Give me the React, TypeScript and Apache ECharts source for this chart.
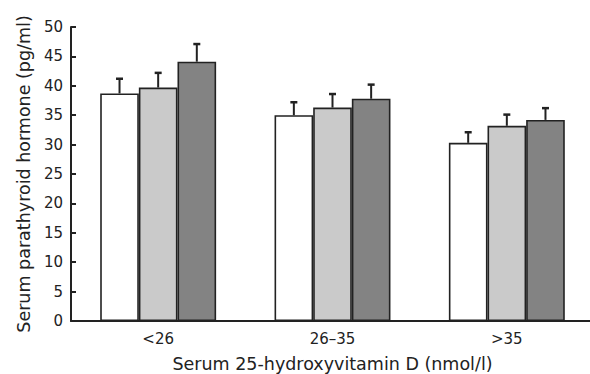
import React, { useEffect, useRef } from "react";
import * as echarts from "echarts";

const categories = ["<26", "26\u201335", ">35"];
const seriesNames = ["Group 1", "Group 2", "Group 3"];
const whiteMeans = [38.7, 35.0, 30.3];
const lightMeans = [39.7, 36.3, 33.2];
const darkMeans = [44.1, 37.8, 34.2];
const whiteErr = [2.5, 2.2, 1.8];
const lightErr = [2.5, 2.3, 1.9];
const darkErr = [3.0, 2.4, 2.0];
const yTicks = [0, 5, 10, 15, 20, 25, 30, 35, 40, 45, 50];

const colors = ["#ffffff", "#cacaca", "#838383"];
const CATEGORY_GAP = 0.335;
const FONT = "DejaVu Sans";
const INK = "#222222";

export default function App() {
  const ref = useRef<HTMLDivElement>(null);

  useEffect(() => {
    if (!ref.current) return;
    const chart = echarts.init(ref.current, null, { renderer: "svg", width: 590, height: 374 });
    const means = [whiteMeans, lightMeans, darkMeans];
    const errs = [whiteErr, lightErr, darkErr];

    const barSeries = means.map((vals, k) => ({
      type: "bar",
      name: seriesNames[k],
      data: vals,
      barGap: "0%",
      barCategoryGap: CATEGORY_GAP * 100 + "%",
      itemStyle: { color: colors[k], borderColor: INK, borderWidth: 1.6 },
      z: 2,
    }));

    const errSeries = means.map((vals, k) => ({
      type: "custom",
      name: seriesNames[k] + " error",
      data: vals.map((m, i) => [i, m + errs[k][i], m]),
      encode: { x: 0, y: 1 },
      z: 3,
      renderItem: (params: any, api: any) => {
        const ci = api.value(0);
        const top = api.value(1);
        const mean = api.value(2);
        const bandW = api.size([1, 0])[0];
        const barW = (bandW * (1 - CATEGORY_GAP)) / 3;
        const p0 = api.coord([ci, mean]);
        const p1 = api.coord([ci, top]);
        const x = p0[0] + (k - 1) * barW;
        const capHalf = 3.5;
        return {
          type: "group",
          children: [
            {
              type: "line",
              shape: { x1: x, y1: p0[1], x2: x, y2: p1[1] },
              style: { stroke: INK, lineWidth: 2 },
            },
            {
              type: "line",
              shape: { x1: x - capHalf, y1: p1[1], x2: x + capHalf, y2: p1[1] },
              style: { stroke: INK, lineWidth: 2.5 },
            },
          ],
        };
      },
    }));

    chart.setOption({
      animation: false,
      backgroundColor: "#ffffff",
      textStyle: { fontFamily: FONT, color: INK },
      grid: { left: 71, top: 27, width: 523, height: 294, containLabel: false, outerBoundsMode: "none" },
      xAxis: {
        type: "category",
        data: categories,
        name: "Serum 25-hydroxyvitamin D (nmol/l)",
        nameLocation: "middle",
        nameGap: 34,
        nameTextStyle: { fontFamily: FONT, fontSize: 17.5, color: INK },
        axisLine: { show: true, lineStyle: { color: INK, width: 2 } },
        axisTick: { show: false },
        axisLabel: { margin: 10, fontFamily: FONT, fontSize: 15, color: INK },
        splitLine: { show: false },
      },
      yAxis: {
        type: "value",
        min: yTicks[0],
        max: yTicks[yTicks.length - 1],
        interval: 5,
        name: "Serum parathyroid hormone (pg/ml)",
        nameLocation: "middle",
        nameRotate: 90,
        nameGap: 38,
        nameTextStyle: { fontFamily: FONT, fontSize: 17.5, color: INK },
        axisLine: { show: true, lineStyle: { color: INK, width: 2 } },
        axisTick: { show: true, inside: true, length: 5, lineStyle: { color: INK, width: 2 } },
        axisLabel: { margin: 8, fontFamily: FONT, fontSize: 15, color: INK },
        splitLine: { show: false },
      },
      series: [...barSeries, ...errSeries],
    });

    return () => chart.dispose();
  }, []);

  return (
    <div
      ref={ref}
      style={{ position: "fixed", left: 0, top: 0, width: 590, height: 374, background: "#fff" }}
    />
  );
}
